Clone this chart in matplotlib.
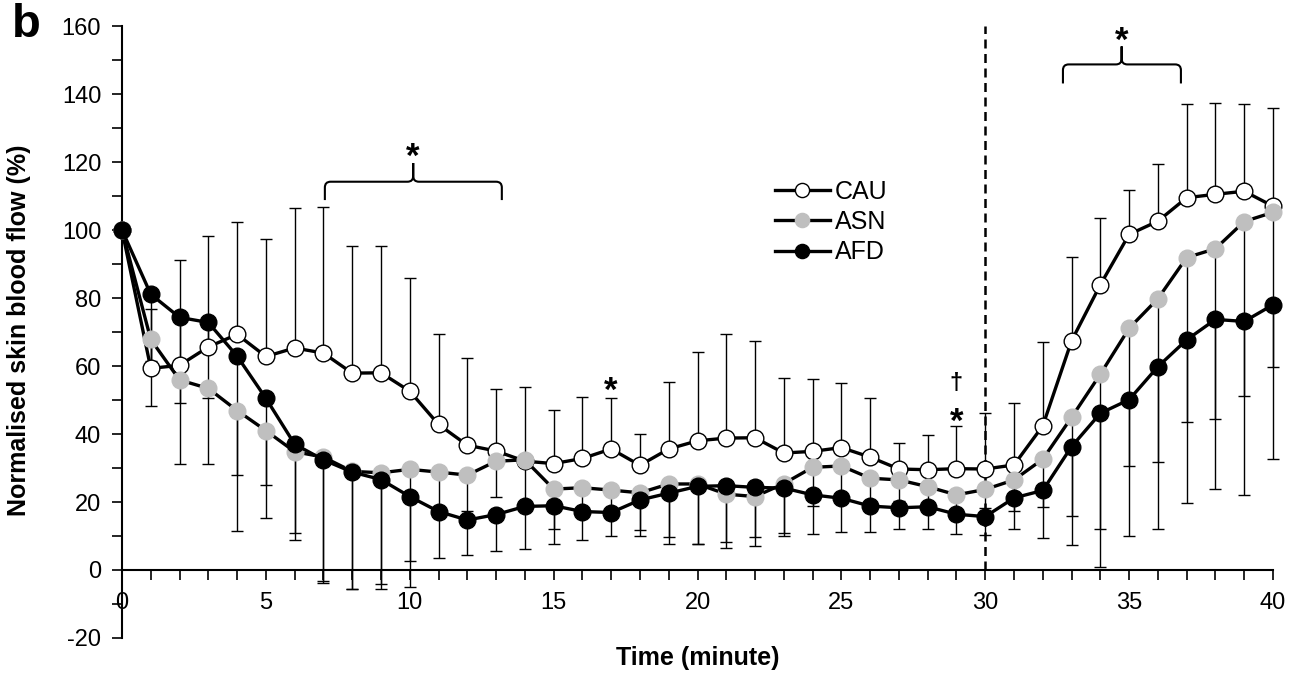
import numpy as np
import matplotlib.pyplot as plt
from matplotlib.path import Path
from matplotlib.patches import PathPatch

plt.rcParams['font.family'] = ['Liberation Sans', 'DejaVu Sans']
plt.rcParams['axes.unicode_minus'] = False

# Time points (minute)
time = list(range(41))

# Group means (% of baseline)
cau = [100, 59.3, 60.2, 65.6, 69.3, 62.8, 65.3, 63.8, 57.9, 58, 52.6, 42.8, 36.7, 35, 32,
       31.3, 32.8, 35.6, 30.8, 35.6, 38, 38.8, 38.9, 34.4, 34.9, 36, 33.2, 29.7, 29.5, 29.8,
       29.7, 30.9, 42.4, 67.4, 83.9, 98.7, 102.6, 109.5, 110.5, 111.4, 107]
asn = [100, 67.8, 55.9, 53.4, 46.9, 41, 34.8, 33.2, 29, 28.6, 29.6, 28.8, 27.9, 32, 32.4,
       23.8, 24.2, 23.5, 22.7, 25.3, 25.3, 22.3, 21.6, 25.4, 30.2, 30.6, 27, 26.5, 24.5, 22.1,
       23.7, 26.5, 32.6, 44.9, 57.6, 71.1, 79.8, 91.9, 94.5, 102.5, 105.2]
afd = [100, 81.1, 74.3, 72.8, 62.9, 50.5, 37, 32.4, 28.8, 26.6, 21.6, 17.2, 14.7, 16.3, 18.7,
       18.9, 17.2, 16.9, 20.6, 22.6, 24.6, 24.8, 24.3, 24.1, 22.1, 21.1, 18.8, 18.3, 18.6, 16.4,
       15.7, 21.2, 23.4, 36.3, 46.1, 50.1, 59.8, 67.7, 73.7, 73.1, 78]

# SD (CAU drawn upward, ASN and AFD drawn downward)
cau_sd = [0, 17.5, 30.9, 32.6, 33.2, 34.7, 41.3, 43.1, 37.5, 37.4, 33.4, 26.7, 25.8, 18.3, 21.8,
          15.9, 18.1, 15.1, 9.2, 19.8, 26.2, 30.7, 28.5, 22.0, 21.3, 19.1, 17.3, 7.8, 10.1, 12.5,
          16.4, 18.3, 24.6, 24.6, 19.7, 13.1, 16.8, 27.5, 26.9, 25.6, 29]
asn_sd = [0, 19.5, 24.8, 22.3, 35.3, 25.6, 26.0, 36.3, 34.7, 32.8, 26.9, 13.6, 10.4, 10.5, 12.5,
          11.6, 8.5, 6.8, 10.8, 15.5, 17.6, 15.7, 14.4, 14.5, 11.4, 9.8, 7.5, 6.2, 6.6, 5.9,
          5.5, 9.1, 14.0, 28.9, 45.4, 40.4, 47.9, 48.3, 50.0, 51.3, 45.6]
afd_sd = [0, 19.5, 25.1, 22.3, 35.0, 25.4, 26.0, 36.3, 34.5, 32.3, 26.7, 13.6, 10.2, 10.6, 12.5,
          11.3, 8.5, 6.8, 10.5, 15.0, 16.9, 16.5, 14.6, 14.2, 11.6, 9.8, 7.5, 6.2, 6.6, 5.9,
          5.4, 9.0, 14.0, 28.9, 45.3, 40.1, 47.7, 47.9, 49.8, 51.0, 45.3]

zeros = [0] * len(time)

fig = plt.figure(figsize=(13.04, 6.75), dpi=100)
ax = fig.add_axes([122 / 1304, 1 - 638 / 675, (1273 - 122) / 1304, (638 - 26) / 675])

eb = dict(fmt='none', ecolor='black', elinewidth=1.0, capsize=4.3, capthick=1.0, zorder=1)
for y, err in [(cau, [zeros, cau_sd]), (asn, [asn_sd, zeros]), (afd, [afd_sd, zeros])]:
    cont = ax.errorbar(time, y, yerr=err, **eb)
    for art in cont.lines[1] + cont.lines[2]:
        art.set_clip_on(False)

ax.plot(time, cau, '-o', color='black', lw=2.4, ms=12, mfc='white', mec='black', mew=1.0,
        zorder=3, label='CAU', clip_on=False)
ax.plot(time, asn, '-o', color='black', lw=2.4, ms=12, mfc='#bfbfbf', mec='#bfbfbf', mew=1.0,
        zorder=4, label='ASN', clip_on=False)
ax.plot(time, afd, '-o', color='black', lw=2.4, ms=12, mfc='black', mec='black', mew=1.0,
        zorder=5, label='AFD', clip_on=False)

# end of the exposure
ax.plot([30, 30], [0, 160], color='black', lw=1.8, ls=(0, (3.6, 2.2)), zorder=2)


def brace(x0, x1, xm, ybase, yline, ypeak, rx=0.2, ry=1.7):
    verts = [(x0, ybase), (x0, yline - ry), (x0, yline), (x0 + rx, yline),
             (xm - rx, yline), (xm, yline), (xm, yline + ry), (xm, ypeak),
             (xm, yline + ry), (xm, yline), (xm + rx, yline),
             (x1 - rx, yline), (x1, yline), (x1, yline - ry), (x1, ybase)]
    codes = [Path.MOVETO, Path.LINETO, Path.CURVE3, Path.CURVE3,
             Path.LINETO, Path.CURVE3, Path.CURVE3, Path.LINETO,
             Path.LINETO, Path.CURVE3, Path.CURVE3,
             Path.LINETO, Path.CURVE3, Path.CURVE3, Path.LINETO]
    ax.add_patch(PathPatch(Path(verts, codes), fill=False, lw=1.5, ec='black', zorder=2))


brace(7.05, 13.2, 10.12, 108.8, 114.2, 119.7)
brace(32.7, 36.8, 34.74, 143.1, 148.7, 154.0)

star = dict(ha='center', va='center', fontsize=25, fontweight='bold')
ax.text(10.1, 121.5, '*', **star)
ax.text(34.75, 155.5, '*', **star)
ax.text(17, 52.5, '*', **star)
ax.text(29, 43.5, '*', **star)
ax.text(29, 55, '\u2020', ha='center', va='center', fontsize=17, fontweight='bold')

ax.set_xlim(0, 40)
ax.set_ylim(-20, 160)
ax.set_xticks(range(0, 41, 5))
ax.set_xticks(time, minor=True)
ax.set_yticks(range(-20, 161, 20))
ax.set_yticks(range(-20, 161, 10), minor=True)
ax.tick_params(which='both', direction='out', length=7, width=1.2, labelsize=17)
ax.tick_params(axis='x', pad=9)
ax.tick_params(axis='y', pad=8)

ax.spines['bottom'].set_position(('data', 0))
ax.spines['top'].set_visible(False)
ax.spines['right'].set_visible(False)
ax.spines['left'].set_linewidth(1.5)
ax.spines['bottom'].set_linewidth(1.5)

ax.legend(loc='upper left', bbox_to_anchor=(775 / 1304, 1 - 180 / 675),
          bbox_transform=fig.transFigure, frameon=False, fontsize=18,
          handlelength=2.2, handletextpad=0.2, labelspacing=0.25, borderpad=0,
          borderaxespad=0, markerscale=0.85)

fig.text(697.5 / 1304, 1 - 658 / 675, 'Time (minute)', ha='center', va='center',
         fontsize=18, fontweight='bold')
fig.text(19 / 1304, 1 - 330 / 675, 'Normalised skin blood flow (%)', ha='center', va='center',
         rotation=90, fontsize=18, fontweight='bold')
fig.text(12 / 1304, 1 - 25 / 675, 'b', ha='left', va='center', fontsize=34, fontweight='bold')

fig.savefig('out.png', dpi=100)
